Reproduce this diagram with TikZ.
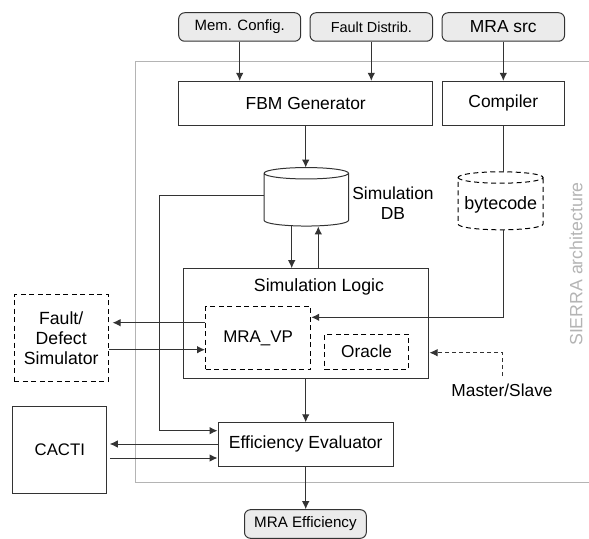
\documentclass[tikz,border=0pt]{standalone}
\usepackage{fontspec}
\setmainfont{Liberation Sans}
\usetikzlibrary{arrows.meta}
\definecolor{ink}{HTML}{333333}
\definecolor{framegray}{HTML}{B4B4B4}
\definecolor{soft}{HTML}{EBEBEB}
\newcommand{\fs}[1]{\fontsize{#1}{#1}\selectfont}
\tikzset{
  wire/.style={draw=ink,line width=1pt},
  flow/.style={wire,-{Latex[length=8bp,width=7.5bp]}},
  dflow/.style={flow,dash pattern=on 4bp off 3bp},
  box/.style={draw=ink,line width=1pt,inner sep=0pt,align=center,font=\fs{17.5}},
  dbox/.style={box,draw=black,line width=1pt,dash pattern=on 5bp off 3.5bp},
  inbox/.style={box,rounded corners=6bp,fill=soft},
  label/.style={inner sep=0pt,align=center,font=\fs{17.5},text=black},
  sz/.style n args={2}{minimum width=#1 bp,minimum height=#2 bp}
}
\begin{document}
\begin{tikzpicture}[x=1bp,y=-1bp]
\useasboundingbox (0,0) rectangle (589,539);
\draw[framegray,line width=0.8pt] (589,61) -- (135,61) -- (135,482) -- (589,482);
\node[label,text=framegray,rotate=90,font=\fs{17.8}] (arch) at (576,264) {SIERRA architecture};

\node[inbox,sz={122}{28.5},font=\fs{15}] (mem) at (239.7,27) {Mem. Config.};
\node[inbox,sz={122.5}{28.5},font=\fs{14.5}] (dist) at (371.3,27) {Fault Distrib.};
\node[inbox,sz={122.5}{28.5},font=\fs{17.5}] (src) at (503.3,27) {MRA src};
\node[box,sz={254}{43.7}] (fbm) at (305.7,103.2) {FBM Generator};
\node[box,sz={122.5}{43.7}] (comp) at (503.3,103.2) {Compiler};

% Simulation DB cylinder
\node[inner sep=0pt,sz={84.4}{58.5}] (db) at (306.5,197) {};
\draw[draw=ink,line width=1pt] (db.north west) ++(0,5.7) coordinate (dba)
  arc[start angle=180,end angle=540,x radius=42.2bp,y radius=5.7bp]
  -- ++(0,47.1) arc[start angle=180,end angle=360,x radius=42.2bp,y radius=5.7bp] -- ++(0,-47.1);
\node[label] (dbl) at (393,203) {Simulation\\[2.5pt]DB};

% bytecode cylinder
\node[inner sep=0pt,sz={85}{58}] (bc) at (500.8,201) {};
\draw[draw=black,line width=1pt,dash pattern=on 5bp off 3.5bp] (bc.north west) ++(0,5.7)
  arc[start angle=180,end angle=540,x radius=42.5bp,y radius=5.7bp]
  -- ++(0,46.6) arc[start angle=180,end angle=360,x radius=42.5bp,y radius=5.7bp] -- ++(0,-46.6);
\node[label,font=\fs{18}] (bcl) at (500.8,205) {bytecode};

\node[box,sz={245}{110}] (sim) at (305.5,323.7) {};
\node[label,font=\fs{17.8}] (siml) at (319,287) {Simulation Logic};
\node[dbox,sz={105.2}{62.6},font=\fs{17}] (vp) at (258.1,338) {MRA\_VP};
\node[dbox,sz={84.1}{35},font=\fs{17.3}] (oracle) at (366.6,351.8) {Oracle};
\node[dbox,sz={93.7}{87.4},font=\fs{17.7}] (fault) at (61.2,338) {Fault/\\[2.3pt]Defect\\[2.3pt]Simulator};
\node[box,sz={93.9}{87.3},font=\fs{16.8}] (cacti) at (59.8,449.7) {CACTI};
\node[box,sz={175.3}{43.3},font=\fs{17.6}] (eff) at (305.7,444.4) {Efficiency Evaluator};
\node[inbox,sz={121.8}{28.6},font=\fs{15.2}] (out) at (305.4,524) {MRA Efficiency};
\node[label,font=\fs{17.4}] (ms) at (502,390) {Master/Slave};
\coordinate (msend) at (502.7,376);

\draw[flow] (mem.south) -- (mem.south |- fbm.north);
\draw[flow] (dist.south) -- (dist.south |- fbm.north);
\draw[flow] (src.south) -- (src.south |- comp.north);
\draw[flow] (fbm.south) -- (fbm.south |- db.north);
\draw[wire] (comp.south) -- (comp.south |- bc.north);
\draw[flow] (comp.south |- bc.south) |- ([yshift=20.7bp]vp.east);
\draw[flow] ([xshift=-14.8bp]db.south) -- ([xshift=-14.8bp]db.south |- sim.north);
\draw[flow] ([xshift=11.8bp]db.south |- sim.north) -- ([xshift=11.8bp]db.south);
\coordinate (bendlow) at (159.5,430.7);
\draw[flow] ([yshift=1.5bp]db.west) -| (bendlow) -- (eff.west |- bendlow);
\draw[flow] ([yshift=15.3bp]vp.west) -- ([xshift=4bp,yshift=15.3bp]vp.west -| fault.east);
\draw[flow] ([yshift=-11.7bp]fault.east) -- ([yshift=-11.7bp]fault.east -| vp.west);
\draw[dflow] (msend) |- ([xshift=1bp,yshift=-29bp]sim.east);
\draw[flow] (eff.north |- sim.south) -- (eff.north);
\draw[flow] (eff.south) -- (out.north -| eff.south);
\draw[flow] ([yshift=0.4bp]eff.west) -- ([xshift=2.5bp,yshift=0.4bp]eff.west -| cacti.east);
\draw[flow] ([xshift=2.5bp,yshift=-13.6bp]eff.west -| cacti.east) -- ([yshift=-13.6bp]eff.west);
\end{tikzpicture}
\end{document}
